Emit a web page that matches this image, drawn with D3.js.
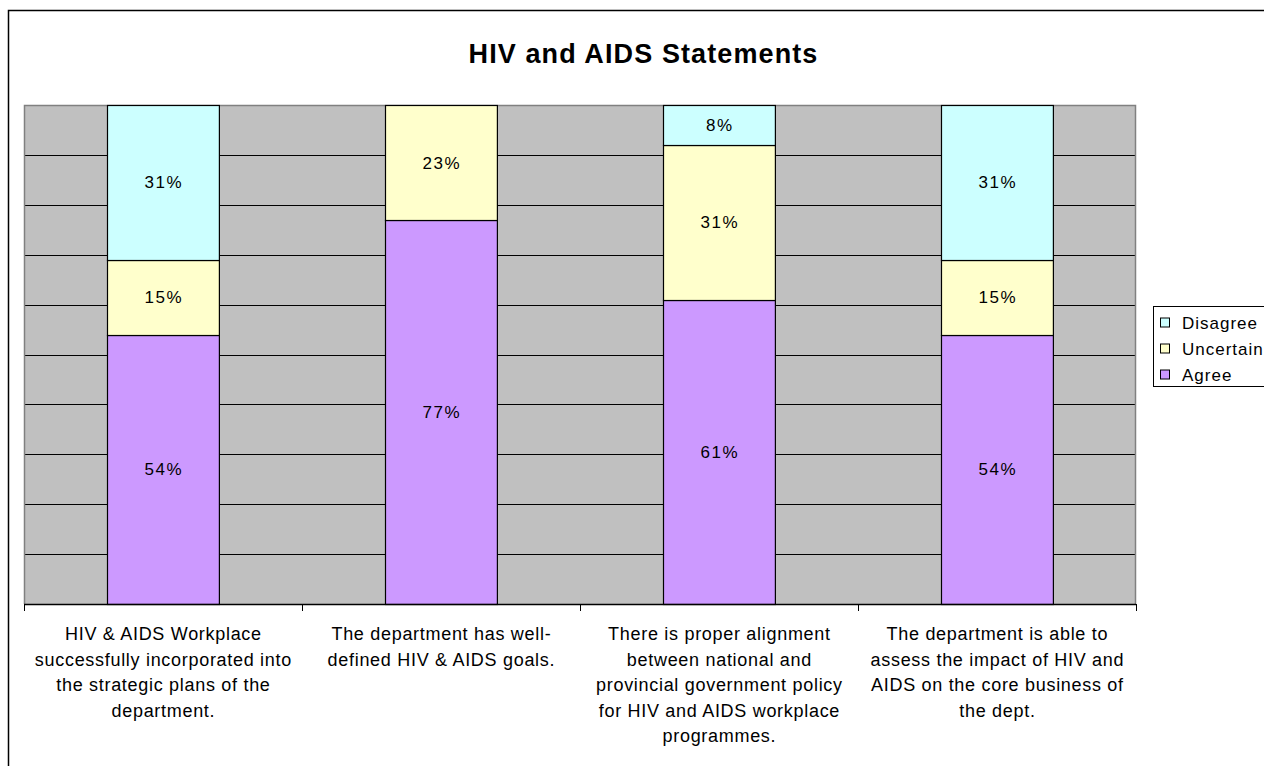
<!DOCTYPE html>
<html>
<head>
<meta charset="utf-8">
<script src="https://cdn.jsdelivr.net/npm/d3@7"></script>
<style>
  html, body { margin: 0; padding: 0; background: #fff; }
  svg { display: block; }
  text { font-family: "Liberation Sans", Arial, sans-serif; fill: #000; }
</style>
</head>
<body>
<svg id="chart" width="1264" height="766"></svg>
<script>
// Statement categories (multi-line labels)
const categories = [
  ["HIV & AIDS Workplace", "successfully incorporated into", "the strategic plans of the", "department."],
  ["The department has well-", "defined HIV & AIDS goals."],
  ["There is proper alignment", "between national and", "provincial government policy", "for HIV and AIDS workplace", "programmes."],
  ["The department is able to", "assess the impact of HIV and", "AIDS on the core business of", "the dept."]
];
const seriesNames = ["Agree", "Uncertain", "Disagree"];
const agree     = [54, 77, 61, 54];
const uncertain = [15, 23, 31, 15];
const disagree  = [31, 0, 8, 31];
const yTicks = [0, 10, 20, 30, 40, 50, 60, 70, 80, 90, 100];
const colors = { Agree: "#cc99ff", Uncertain: "#ffffcc", Disagree: "#ccffff" };

const svg = d3.select("#chart");

// outer chart frame
svg.append("rect").attr("x", 8.5).attr("y", 10.5).attr("width", 1300).attr("height", 800)
  .attr("fill", "#fff").attr("stroke", "#000").attr("stroke-width", 1.5);

const plot = { left: 24, right: 1136, top: 105, bottom: 604 };

const x = d3.scaleBand().domain(d3.range(categories.length))
  .range([plot.left, plot.right]).paddingInner(0.5975).paddingOuter(0.2988);
const xOuter = d3.scaleBand().domain(d3.range(categories.length))
  .range([plot.left, plot.right]);
const y = d3.scaleLinear().domain([0, 100]).range([plot.bottom, plot.top]);

// plot background
svg.append("rect").attr("x", plot.left).attr("y", plot.top)
  .attr("width", plot.right - plot.left).attr("height", plot.bottom - plot.top)
  .attr("fill", "#c0c0c0");

// gridlines
svg.append("g").selectAll("line").data(yTicks.filter(t => t > 0 && t < 100)).join("line")
  .attr("x1", plot.left).attr("x2", plot.right)
  .attr("y1", d => Math.round(y(d)) + 0.5).attr("y2", d => Math.round(y(d)) + 0.5)
  .attr("stroke", "#000").attr("stroke-width", 1);

// plot border (top, left, right)
svg.append("path")
  .attr("d", `M${plot.left + 0.5},${plot.bottom} V${plot.top + 0.5} H${plot.right - 0.5} V${plot.bottom}`)
  .attr("fill", "none").attr("stroke", "#808080").attr("stroke-width", 1.5);

// stacked data
const rows = categories.map((c, i) => ({ i, Agree: agree[i], Uncertain: uncertain[i], Disagree: disagree[i] }));
const stack = d3.stack().keys(seriesNames)(rows);

const layers = svg.append("g").selectAll("g").data(stack).join("g")
  .attr("fill", d => colors[d.key]);

layers.selectAll("rect").data(d => d.filter(s => s[1] - s[0] > 0)).join("rect")
  .attr("x", d => Math.round(x(d.data.i)) + 0.5)
  .attr("y", d => Math.round(y(d[1])) + 0.5)
  .attr("width", x.bandwidth())
  .attr("height", d => Math.round(y(d[0])) - Math.round(y(d[1])))
  .attr("stroke", "#000").attr("stroke-width", 1.2);

// value labels
layers.selectAll("text").data(d => d.filter(s => s[1] - s[0] > 0)).join("text")
  .attr("x", d => x(d.data.i) + x.bandwidth() / 2 + 0.75)
  .attr("y", d => (y(d[0]) + y(d[1])) / 2)
  .attr("dy", "0.36em")
  .attr("text-anchor", "middle")
  .attr("font-size", 17)
  .attr("letter-spacing", 1.5)
  .attr("fill", "#000")
  .text(d => (d[1] - d[0]) + "%");

// x axis line and ticks
const axisG = svg.append("g");
axisG.append("line").attr("x1", plot.left).attr("x2", plot.right)
  .attr("y1", plot.bottom + 0.5).attr("y2", plot.bottom + 0.5)
  .attr("stroke", "#000").attr("stroke-width", 1.5);
const tickXs = d3.range(categories.length + 1).map(i =>
  i < categories.length ? xOuter(i) : xOuter(i - 1) + xOuter.bandwidth());
axisG.selectAll("line.tick").data(tickXs).join("line").attr("class", "tick")
  .attr("x1", d => Math.round(d) + 0.5).attr("x2", d => Math.round(d) + 0.5)
  .attr("y1", plot.bottom).attr("y2", plot.bottom + 7)
  .attr("stroke", "#000").attr("stroke-width", 1);

// category labels
const catLabels = svg.append("g").selectAll("text").data(categories).join("text")
  .attr("text-anchor", "middle")
  .attr("font-size", 18)
  .attr("letter-spacing", 0.7)
  .attr("x", (d, i) => xOuter(i) + xOuter.bandwidth() / 2 + 0.4)
  .attr("y", 640);
catLabels.selectAll("tspan").data(d => d).join("tspan")
  .attr("x", function () { return d3.select(this.parentNode).attr("x"); })
  .attr("dy", (d, j) => j === 0 ? 0 : 25.6)
  .text(d => d);

// title
svg.append("text").attr("x", 643.5).attr("y", 63)
  .attr("text-anchor", "middle").attr("font-size", 27).attr("font-weight", "bold")
  .attr("letter-spacing", 1.1)
  .text("HIV and AIDS Statements");

// legend
const legend = svg.append("g");
legend.append("rect").attr("x", 1153.5).attr("y", 306.5).attr("width", 130).attr("height", 80)
  .attr("fill", "#fff").attr("stroke", "#000").attr("stroke-width", 1);
const legendItems = ["Disagree", "Uncertain", "Agree"];
const li = legend.selectAll("g").data(legendItems).join("g")
  .attr("transform", (d, i) => `translate(1160, ${322.5 + i * 26})`);
li.append("rect").attr("x", 0.5).attr("y", -4.5).attr("width", 9).attr("height", 9)
  .attr("fill", d => colors[d]).attr("stroke", "#000").attr("stroke-width", 1);
li.append("text").attr("x", 22).attr("y", 0).attr("dy", "0.36em")
  .attr("font-size", 17).attr("letter-spacing", 1).text(d => d);
</script>
</body>
</html>
